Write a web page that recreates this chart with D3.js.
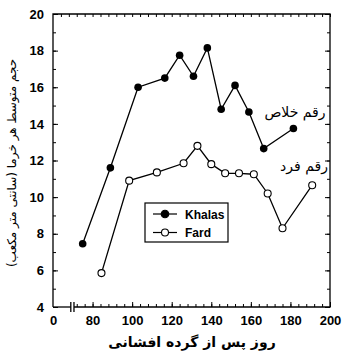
<!DOCTYPE html>
<html>
<head>
<meta charset="utf-8">
<script src="https://cdn.jsdelivr.net/npm/d3@7"></script>
<style>
  body { margin: 0; background: #fff; }
  .tick text { font-family: Arial, "Liberation Sans", sans-serif; font-weight: bold; font-size: 13px; fill: #000; }
  .fa { font-family: "DejaVu Sans", sans-serif; fill: #000; }
</style>
</head>
<body>
<div id="chart"></div>
<script>
// days after pollination
const khalasDays = [75, 89, 103, 116.5, 124, 131, 138, 145, 152, 159, 166.5, 181.5];
const khalasVol  = [7.45, 11.6, 16.0, 16.5, 17.75, 16.6, 18.15, 14.8, 16.1, 14.65, 12.65, 13.75];
const fardDays = [84.5, 98.5, 112.5, 126, 133, 140, 147, 154, 161.5, 168.5, 176, 191];
const fardVol  = [5.85, 10.9, 11.35, 11.85, 12.8, 11.8, 11.3, 11.3, 11.25, 10.2, 8.3, 10.65];

const xTicks = [0, 80, 100, 120, 140, 160, 180, 200];
const yTicks = [4, 6, 8, 10, 12, 14, 16, 18, 20];
const seriesNames = ["Khalas", "Fard"];

const width = 342, height = 353;
const plotLeft = 53, plotRight = 330, plotTop = 14, plotBottom = 307;

const svg = d3.select("#chart").append("svg")
    .attr("width", width)
    .attr("height", height);

// broken axis: 0 sits on the left edge, real scale starts around 60
const x = d3.scaleLinear().domain([0, 60, 200]).range([plotLeft, plotLeft, plotRight]);
const y = d3.scaleLinear().domain([4, 20]).range([plotBottom, plotTop]);

const minorX = d3.range(72, 201, 4);
const minorXTop = d3.range(64, 201, 4);
const minorY = d3.range(4, 21, 1);

// minor ticks
svg.append("g").attr("transform", `translate(0,${plotBottom})`)
    .call(d3.axisBottom(x).tickValues(minorX).tickSize(-3).tickFormat(""));
svg.append("g").attr("transform", `translate(0,${plotTop})`)
    .call(d3.axisTop(x).tickValues(minorXTop).tickSize(-3).tickFormat(""));
svg.append("g").attr("transform", `translate(${plotLeft},0)`)
    .call(d3.axisLeft(y).tickValues(minorY).tickSize(-3).tickFormat(""));
svg.append("g").attr("transform", `translate(${plotRight},0)`)
    .call(d3.axisRight(y).tickValues(minorY).tickSize(-3).tickFormat(""));

// major ticks + labels
svg.append("g").attr("transform", `translate(0,${plotBottom})`)
    .call(d3.axisBottom(x).tickValues(xTicks.filter(d => d > 0)).tickSize(-5).tickPadding(9));
svg.append("g").attr("transform", `translate(0,${plotBottom})`)
    .call(d3.axisBottom(x).tickValues([0]).tickSize(0).tickPadding(9));
svg.append("g").attr("transform", `translate(${plotLeft},0)`)
    .call(d3.axisLeft(y).tickValues(yTicks).tickSize(-5).tickPadding(9));
svg.append("g").attr("transform", `translate(${plotRight},0)`)
    .call(d3.axisRight(y).tickValues(yTicks).tickSize(-5).tickFormat(""));

svg.selectAll(".domain").remove();
svg.selectAll(".tick line").attr("stroke", "#000").attr("stroke-width", 1);

// frame with the break on the bottom axis
const frame = svg.append("g").attr("stroke", "#000").attr("stroke-width", 1.3).attr("fill", "none");
frame.append("path").attr("d", `M${plotLeft},${plotBottom}V${plotTop}H${plotRight}V${plotBottom}H${x(70.6)}`);
frame.append("line").attr("x1", plotLeft).attr("x2", x(69)).attr("y1", plotBottom).attr("y2", plotBottom);
[x(69), x(70.6)].forEach(bx => {
  frame.append("line").attr("x1", bx).attr("x2", bx).attr("y1", plotBottom - 5).attr("y2", plotBottom + 5);
});

// lines and markers
const line = d3.line().x(d => x(d[0])).y(d => y(d[1]));
const khalas = khalasDays.map((d, i) => [d, khalasVol[i]]);
const fard = fardDays.map((d, i) => [d, fardVol[i]]);

[khalas, fard].forEach(data => {
  svg.append("path").datum(data).attr("d", line)
    .attr("fill", "none").attr("stroke", "#000").attr("stroke-width", 1.3);
});

svg.selectAll(".kh").data(khalas).enter().append("circle")
    .attr("cx", d => x(d[0])).attr("cy", d => y(d[1])).attr("r", 3.8)
    .attr("fill", "#000");
svg.selectAll(".fd").data(fard).enter().append("circle")
    .attr("cx", d => x(d[0])).attr("cy", d => y(d[1])).attr("r", 3.5)
    .attr("fill", "#fff").attr("stroke", "#000").attr("stroke-width", 1.1);

// legend
const lg = svg.append("g").attr("transform", "translate(145,203)");
lg.append("rect").attr("width", 83).attr("height", 39)
    .attr("fill", "#fff").attr("stroke", "#000").attr("stroke-width", 1.2);
seriesNames.forEach((name, i) => {
  const ly = 11 + i * 18.5;
  lg.append("line").attr("x1", 8).attr("x2", 32).attr("y1", ly).attr("y2", ly)
    .attr("stroke", "#000").attr("stroke-width", 1.2);
  lg.append("circle").attr("cx", 20).attr("cy", ly).attr("r", i === 0 ? 3.8 : 3.5)
    .attr("fill", i === 0 ? "#000" : "#fff").attr("stroke", "#000").attr("stroke-width", 1.1);
  lg.append("text").attr("x", 40).attr("y", ly + 4.5).text(name)
    .style("font-family", "Arial, 'Liberation Sans', sans-serif")
    .style("font-weight", "bold").style("font-size", "12px");
});

// annotations
svg.append("text").attr("class", "fa").attr("x", 295).attr("y", 117)
    .attr("text-anchor", "middle").style("font-size", "14px").text("رقم خلاص");
svg.append("text").attr("class", "fa").attr("x", 304).attr("y", 171)
    .attr("text-anchor", "middle").style("font-size", "14px").text("رقم فرد");

// axis titles
svg.append("text").attr("class", "fa").attr("x", 192).attr("y", 347)
    .attr("text-anchor", "middle").style("font-size", "14px").style("font-weight", "bold")
    .text("روز پس از گرده افشانی");
svg.append("text").attr("class", "fa")
    .attr("transform", "translate(16,163) rotate(-90)")
    .attr("text-anchor", "middle").style("font-size", "12px")
    .text("حجم متوسط هر خرما (سانتی متر مکعب)");
</script>
</body>
</html>
